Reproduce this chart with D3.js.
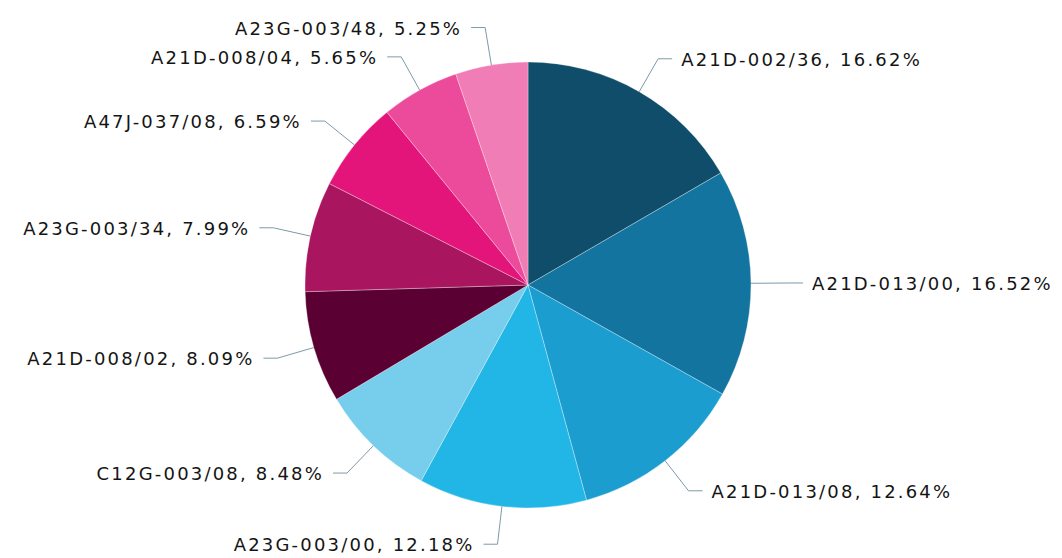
<!DOCTYPE html>
<html>
<head>
<meta charset="utf-8">
<script src="https://cdn.jsdelivr.net/npm/d3@7"></script>
<style>
  html, body { margin: 0; padding: 0; background: #ffffff; }
  svg { display: block; }
</style>
</head>
<body>
<svg id="chart" width="1062" height="558"></svg>
<script>
// ---- data ----
const categories = ["A21D-002/36", "A21D-013/00", "A21D-013/08", "A23G-003/00", "C12G-003/08",
                    "A21D-008/02", "A23G-003/34", "A47J-037/08", "A21D-008/04", "A23G-003/48"];
const shares = [16.62, 16.52, 12.64, 12.18, 8.48, 8.09, 7.99, 6.59, 5.65, 5.25];
const sliceColors = ["#0f4d6b", "#13759f", "#1b9dd0", "#22b6e6", "#76cdec",
                     "#5a0032", "#a9165f", "#e3157b", "#ec4b9c", "#f07db5"];

// ---- layout ----
const W = 1062, H = 558;
const cx = 528, cy = 285, R = 223;
const elbowOffset = 38, horiz = 14, gap = 9;

const svg = d3.select("#chart");
const g = svg.append("g").attr("transform", `translate(${cx},${cy})`);

const data = categories.map((c, i) => ({ name: c, value: shares[i], color: sliceColors[i] }));

const pie = d3.pie().value(d => d.value).sort(null).startAngle(0).endAngle(2 * Math.PI);
const arcs = pie(data);
const arc = d3.arc().innerRadius(0).outerRadius(R);

g.selectAll("path.slice")
  .data(arcs)
  .join("path")
  .attr("class", "slice")
  .attr("d", arc)
  .attr("fill", d => d.data.color)
  .attr("stroke", "rgba(255,255,255,0.3)")
  .attr("stroke-width", 1);

const fmt = v => v.toFixed(2) + "%";

arcs.forEach(a => {
  const mid = (a.startAngle + a.endAngle) / 2;
  const sx = Math.sin(mid), sy = -Math.cos(mid);
  const p0 = [sx * R, sy * R];
  const p1 = [sx * (R + elbowOffset), sy * (R + elbowOffset)];
  const right = sx >= 0;
  const dir = right ? 1 : -1;
  const p2 = [p1[0] + dir * horiz, p1[1]];

  g.append("polyline")
    .attr("points", [p0, p1, p2].map(p => p.join(",")).join(" "))
    .attr("fill", "none")
    .attr("stroke", "#7d9aa8")
    .attr("stroke-width", 1);

  g.append("text")
    .attr("x", p2[0] + dir * gap)
    .attr("y", p2[1] + 2)
    .attr("text-anchor", right ? "start" : "end")
    .attr("dominant-baseline", "middle")
    .attr("font-family", "'DejaVu Sans', Verdana, sans-serif")
    .attr("font-size", 18)
    .attr("letter-spacing", "2.2px")
    .attr("fill", "#141414")
    .text(`${a.data.name}, ${fmt(a.data.value)}`);
});
</script>
</body>
</html>
